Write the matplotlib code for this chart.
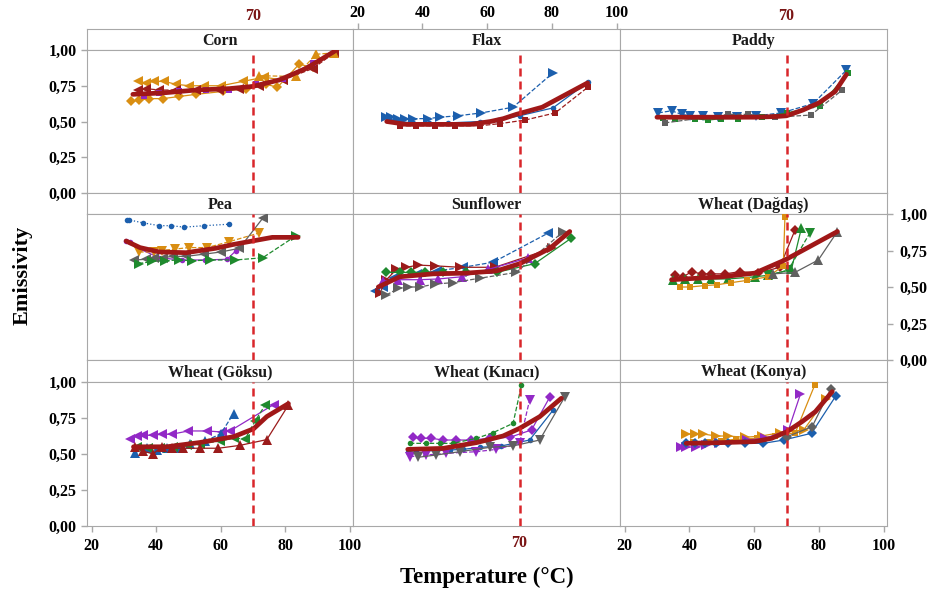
import numpy as np
import matplotlib.pyplot as plt

plt.rcParams['font.family'] = ['Liberation Serif', 'DejaVu Serif']
plt.rcParams['font.weight'] = 'bold'

# ---- data (temperature in C, emissivity) ----
# Corn
corn_t1 = [34.3, 36.9, 39.5, 42.6, 46.2, 50.3, 54.9, 60.1, 66.8, 73.5, 79.2]
corn_e1 = [0.78, 0.77, 0.78, 0.78, 0.76, 0.75, 0.75, 0.75, 0.78, 0.81, 0.79]
corn_t2 = [32.3, 34.8, 37.9, 42.1, 47.2, 52.4, 60.6, 67.8, 74.0, 77.6, 84.3, 88.5]
corn_e2 = [0.64, 0.65, 0.66, 0.66, 0.675, 0.69, 0.71, 0.73, 0.76, 0.74, 0.90, 0.88]
corn_t3 = [34.3, 36.9, 41.0, 46.2, 52.4, 59.6, 65.8, 72.0, 79.2, 88.5, 95.2]
corn_e3 = [0.72, 0.73, 0.72, 0.72, 0.72, 0.72, 0.73, 0.75, 0.79, 0.87, 0.98]
corn_t4 = [36.4, 41.0, 47.2, 55.5, 62.7, 70.9, 79.2, 88.5]
corn_e4 = [0.68, 0.70, 0.71, 0.72, 0.72, 0.76, 0.80, 0.91]
corn_t5 = [72.0, 83.3, 89.5, 95.2]
corn_e5 = [0.82, 0.815, 0.97, 0.98]
corn_fit_t = [32.8, 42.1, 52.4, 62.7, 69.9, 78.1, 86.4, 95.2]
corn_fit_e = [0.69, 0.70, 0.72, 0.73, 0.745, 0.79, 0.87, 0.99]

# Flax
flax_t1 = [28.9, 30.4, 32.5, 34.5, 37.1, 41.7, 45.3, 51.0, 58.2, 68.0, 80.3]
flax_e1 = [0.53, 0.53, 0.52, 0.52, 0.52, 0.52, 0.53, 0.54, 0.56, 0.60, 0.84]
flax_t2 = [29.4, 33.0, 37.0, 42.0, 48.0, 57.7, 63.4, 70.0, 80.3, 91.1]
flax_e2 = [0.52, 0.50, 0.49, 0.49, 0.49, 0.50, 0.51, 0.54, 0.595, 0.775]
flax_t3 = [33.0, 38.0, 44.0, 50.0, 57.7, 63.9, 71.7, 81.0, 91.1]
flax_e3 = [0.47, 0.47, 0.47, 0.47, 0.47, 0.485, 0.51, 0.56, 0.74]
flax_fit_t = [29.0, 35.0, 45.0, 55.0, 61.0, 65.0, 69.0, 77.0, 91.0]
flax_fit_e = [0.50, 0.48, 0.48, 0.48, 0.50, 0.52, 0.55, 0.60, 0.77]

# Paddy
paddy_t1 = [30.4, 34.5, 37.6, 40.2, 44.3, 48.9, 54.6, 60.7, 68.4, 78.2, 88.5]
paddy_e1 = [0.56, 0.575, 0.55, 0.54, 0.54, 0.53, 0.53, 0.54, 0.56, 0.625, 0.86]
paddy_t2 = [31.9, 35.5, 41.7, 45.8, 49.9, 55.1, 62.3, 70.0, 80.3, 89.0]
paddy_e2 = [0.525, 0.52, 0.52, 0.51, 0.52, 0.52, 0.53, 0.56, 0.61, 0.84]
paddy_t3 = [32.4, 52.0, 58.2, 66.4, 77.5, 87.2]
paddy_e3 = [0.49, 0.55, 0.55, 0.53, 0.545, 0.72]
paddy_fit_t = [30.0, 40.0, 50.0, 60.0, 67.0, 70.0, 75.0, 80.0, 85.0, 88.5]
paddy_fit_e = [0.53, 0.53, 0.53, 0.53, 0.535, 0.54, 0.58, 0.63, 0.71, 0.83]

# Pea
pea_t1 = [31.1, 31.6, 35.8, 41.0, 44.6, 48.7, 54.9, 62.6]
pea_e1 = [0.96, 0.96, 0.94, 0.92, 0.92, 0.91, 0.92, 0.93]
pea_t2 = [30.7, 32.0, 35.0, 41.0, 48.0, 55.0, 62.0, 64.8]
pea_e2 = [0.815, 0.81, 0.76, 0.70, 0.685, 0.685, 0.69, 0.75]
pea_t3 = [34.7, 39.3, 41.9, 46.0, 50.1, 55.8, 62.6, 71.9]
pea_e3 = [0.74, 0.74, 0.75, 0.76, 0.77, 0.77, 0.81, 0.87]
pea_t4 = [33.3, 36.9, 39.5, 42.1, 45.1, 49.3, 54.9, 60.1, 65.8, 73.0]
pea_e4 = [0.685, 0.69, 0.70, 0.70, 0.71, 0.71, 0.725, 0.74, 0.765, 0.97]
pea_t5 = [34.6, 38.7, 42.8, 47.0, 51.1, 56.8, 64.5, 73.0, 83.3]
pea_e5 = [0.66, 0.675, 0.68, 0.685, 0.68, 0.685, 0.685, 0.70, 0.85]
pea_fit_t = [30.7, 35.0, 41.0, 49.3, 58.4, 63.6, 69.8, 76.0, 84.0]
pea_fit_e = [0.815, 0.77, 0.74, 0.735, 0.765, 0.79, 0.815, 0.84, 0.84]

# Sunflower
sun_t1 = [25.3, 27.9, 31.0, 38.2, 44.4, 52.6, 61.9, 78.9]
sun_e1 = [0.47, 0.50, 0.56, 0.59, 0.61, 0.635, 0.67, 0.87]
sun_t2 = [26.9, 28.9, 32.0, 35.1, 38.7, 43.9, 51.6, 62.4, 79.9]
sun_e2 = [0.46, 0.55, 0.62, 0.635, 0.65, 0.645, 0.635, 0.635, 0.765]
sun_t3 = [28.9, 33.0, 36.6, 40.7, 46.4, 53.6, 62.9, 74.7, 86.0]
sun_e3 = [0.60, 0.60, 0.60, 0.60, 0.60, 0.605, 0.60, 0.66, 0.835]
sun_t4 = [27.9, 32.5, 39.2, 44.9, 52.1, 60.3, 72.7]
sun_e4 = [0.54, 0.55, 0.55, 0.555, 0.57, 0.62, 0.70]
sun_t5 = [28.9, 32.5, 35.5, 39.2, 43.9, 49.5, 57.7, 69.0, 83.5]
sun_e5 = [0.445, 0.49, 0.50, 0.50, 0.52, 0.53, 0.56, 0.60, 0.88]
sun_fit_t = [26.4, 33.0, 43.3, 53.6, 62.9, 70.1, 79.4, 85.5]
sun_fit_e = [0.50, 0.57, 0.59, 0.595, 0.61, 0.66, 0.765, 0.88]

# Wheat (Dagdas)
dag_t1 = [35.5, 38.1, 40.7, 43.8, 46.8, 51.0, 55.6, 61.3, 67.9, 72.6]
dag_e1 = [0.58, 0.57, 0.605, 0.59, 0.59, 0.59, 0.605, 0.595, 0.635, 0.89]
dag_t2 = [35.0, 38.6, 42.7, 46.8, 52.0, 60.2, 64.3, 71.5, 74.6]
dag_e2 = [0.55, 0.555, 0.555, 0.555, 0.555, 0.57, 0.58, 0.62, 0.905]
dag_t3 = [64.3, 70.5, 77.2]
dag_e3 = [0.58, 0.615, 0.87]
dag_t4 = [37.1, 40.2, 44.8, 48.4, 53.0, 57.7, 64.3, 69.0, 69.5]
dag_e4 = [0.50, 0.50, 0.51, 0.515, 0.53, 0.545, 0.57, 0.645, 0.98]
dag_t5 = [65.9, 72.6, 79.8, 85.7]
dag_e5 = [0.59, 0.60, 0.685, 0.88]
dag_fit_t = [34.5, 50.0, 60.2, 69.5, 77.0, 85.7]
dag_fit_e = [0.55, 0.57, 0.595, 0.685, 0.775, 0.88]

# Wheat (Goksu)
gok_t1 = [31.9, 34.0, 36.0, 39.1, 41.7, 44.8, 50.0, 55.7, 60.3, 62.9, 76.4]
gok_e1 = [0.606, 0.623, 0.63, 0.63, 0.637, 0.637, 0.66, 0.66, 0.653, 0.66, 0.843]
gok_t2 = [33.4, 37.1, 40.2, 43.3, 47.4, 50.5, 55.2, 60.0, 64.0]
gok_e2 = [0.51, 0.54, 0.525, 0.54, 0.545, 0.57, 0.59, 0.64, 0.78]
gok_t3 = [34.0, 37.6, 41.2, 45.3, 49.5, 53.6, 59.8, 64.0, 67.6, 70.7, 73.8]
gok_e3 = [0.55, 0.54, 0.545, 0.55, 0.56, 0.57, 0.59, 0.61, 0.605, 0.73, 0.84]
gok_t4 = [33.4, 36.0, 39.1, 41.7, 44.8, 48.4, 53.6, 59.3, 66.0, 74.3, 81.0]
gok_e4 = [0.55, 0.52, 0.50, 0.55, 0.54, 0.54, 0.54, 0.54, 0.56, 0.60, 0.84]
gok_fit_t = [33.0, 43.3, 53.6, 64.0, 70.2, 74.3, 81.0]
gok_fit_e = [0.55, 0.55, 0.58, 0.62, 0.675, 0.76, 0.85]

# Wheat (Kinaci)
kin_t1 = [37.1, 39.7, 42.8, 46.4, 50.5, 55.1, 60.8, 67.0, 73.7, 79.3]
kin_e1 = [0.616, 0.609, 0.609, 0.597, 0.597, 0.597, 0.609, 0.616, 0.667, 0.894]
kin_t2 = [36.1, 41.2, 45.3, 49.5, 56.7, 61.8, 68.0, 70.6]
kin_e2 = [0.574, 0.574, 0.574, 0.574, 0.609, 0.648, 0.713, 0.979]
kin_t3 = [35.5, 38.1, 41.2, 44.3, 48.4, 52.5, 57.7, 64.4, 73.1, 80.4]
kin_e3 = [0.516, 0.523, 0.523, 0.523, 0.528, 0.532, 0.546, 0.556, 0.597, 0.806]
kin_t4 = [36.1, 41.2, 47.4, 56.7, 62.8, 70.0, 73.1]
kin_e4 = [0.481, 0.493, 0.505, 0.516, 0.532, 0.574, 0.875]
kin_t5 = [38.6, 44.3, 51.5, 60.8, 68.0, 76.2, 83.9]
kin_e5 = [0.477, 0.493, 0.516, 0.546, 0.556, 0.597, 0.894]
kin_fit_t = [35.5, 46.4, 56.7, 64.9, 70.0, 76.2, 82.9]
kin_fit_e = [0.532, 0.539, 0.579, 0.625, 0.678, 0.759, 0.887]

# Wheat (Konya)
kon_t1 = [39.0, 41.6, 44.2, 48.3, 51.9, 57.1, 62.3, 68.0, 75.3, 82.1]
kon_e1 = [0.639, 0.639, 0.639, 0.625, 0.625, 0.616, 0.625, 0.648, 0.667, 0.88]
kon_t2 = [41.0, 45.7, 49.9, 54.5, 60.8, 66.5, 72.7, 78.7]
kon_e2 = [0.586, 0.586, 0.593, 0.602, 0.609, 0.625, 0.648, 0.979]
kon_t3 = [37.4, 39.0, 42.1, 45.2, 49.3, 57.7, 63.4, 70.6, 74.3]
kon_e3 = [0.546, 0.546, 0.551, 0.563, 0.574, 0.597, 0.609, 0.667, 0.917]
kon_t4 = [39.0, 41.6, 44.7, 48.3, 51.9, 57.1, 62.8, 69.1, 77.7, 85.2]
kon_e4 = [0.579, 0.579, 0.574, 0.574, 0.579, 0.574, 0.574, 0.597, 0.644, 0.903]
kon_t5 = [70.1, 77.9, 83.6]
kon_e5 = [0.62, 0.69, 0.949]
kon_fit_t = [39.0, 49.9, 60.2, 65.4, 70.1, 74.8, 78.9, 84.1]
kon_fit_e = [0.574, 0.579, 0.586, 0.609, 0.655, 0.725, 0.794, 0.933]

titles = ['Corn', 'Flax', 'Paddy',
          'Pea', 'Sunflower', 'Wheat (Dağdaş)',
          'Wheat (Göksu)', 'Wheat (Kınacı)', 'Wheat (Konya)']
ref_temp = 70
x_ticks = [20, 40, 60, 80, 100]
y_ticks = [0.0, 0.25, 0.50, 0.75, 1.00]

# colours
BLUE, RED, ORANGE = '#1c5fad', '#9b1b1b', '#d98e12'
PURPLE, GREEN, GRAY = '#9229c6', '#1f8a2e', '#606060'
FIT = '#a01818'

# (t, e, colour, marker, linestyle) for each panel
series = [
    [(corn_t1, corn_e1, ORANGE, '<', '-'), (corn_t2, corn_e2, ORANGE, 'D', '-'),
     (corn_t3, corn_e3, RED, '<', '--'), (corn_t4, corn_e4, PURPLE, 's', '-'),
     (corn_t5, corn_e5, ORANGE, '^', '--')],
    [(flax_t1, flax_e1, BLUE, '>', '--'), (flax_t2, flax_e2, BLUE, 'o', '-'),
     (flax_t3, flax_e3, RED, 's', '--')],
    [(paddy_t1, paddy_e1, BLUE, 'v', '--'), (paddy_t2, paddy_e2, GREEN, 's', '-'),
     (paddy_t3, paddy_e3, GRAY, 's', '--')],
    [(pea_t1, pea_e1, BLUE, 'o', ':'), (pea_t2, pea_e2, PURPLE, 'o', '-'),
     (pea_t3, pea_e3, ORANGE, 'v', '--'), (pea_t4, pea_e4, GRAY, '<', '-'),
     (pea_t5, pea_e5, GREEN, '>', '--')],
    [(sun_t1, sun_e1, BLUE, '<', '--'), (sun_t2, sun_e2, RED, '>', '-'),
     (sun_t3, sun_e3, GREEN, 'D', '-'), (sun_t4, sun_e4, PURPLE, '^', '-'),
     (sun_t5, sun_e5, GRAY, '>', '--')],
    [(dag_t1, dag_e1, RED, 'D', '-'), (dag_t2, dag_e2, GREEN, '^', '-'),
     (dag_t3, dag_e3, GREEN, 'v', '--'), (dag_t4, dag_e4, ORANGE, 's', '-'),
     (dag_t5, dag_e5, GRAY, '^', '-')],
    [(gok_t1, gok_e1, PURPLE, '<', '-'), (gok_t2, gok_e2, BLUE, '^', '--'),
     (gok_t3, gok_e3, GREEN, '<', '--'), (gok_t4, gok_e4, RED, '^', '-')],
    [(kin_t1, kin_e1, PURPLE, 'D', '-'), (kin_t2, kin_e2, GREEN, 'o', '--'),
     (kin_t3, kin_e3, BLUE, 'o', '-'), (kin_t4, kin_e4, PURPLE, 'v', '--'),
     (kin_t5, kin_e5, GRAY, 'v', '-')],
    [(kon_t1, kon_e1, ORANGE, '>', '-'), (kon_t2, kon_e2, ORANGE, 's', '-'),
     (kon_t3, kon_e3, PURPLE, '>', '-'), (kon_t4, kon_e4, BLUE, 'D', '-'),
     (kon_t5, kon_e5, GRAY, 'D', '-')],
]
fits = [(corn_fit_t, corn_fit_e), (flax_fit_t, flax_fit_e), (paddy_fit_t, paddy_fit_e),
        (pea_fit_t, pea_fit_e), (sun_fit_t, sun_fit_e), (dag_fit_t, dag_fit_e),
        (gok_fit_t, gok_fit_e), (kin_fit_t, kin_fit_e), (kon_fit_t, kon_fit_e)]

msize = {'<': 6.5, '>': 6.5, '^': 6.5, 'v': 6.5, 'D': 5, 's': 4.5, 'o': 4}

# ---- layout in pixels ----
W, H = 933, 590
fig = plt.figure(figsize=(W / 100, H / 100), dpi=100)
cols = [(87, 353), (353, 620), (620, 887)]
rows = [(29, 50, 193), (193, 214, 360), (360, 382, 526)]  # strip top, data top, data bottom
XLIM = (18.6, 101.0)
FRAME = '#a8a8a8'
TICK_FS = 11.5


def rect(x0, x1, y0, y1):
    return [x0 / W, 1 - y1 / H, (x1 - x0) / W, (y1 - y0) / H]


def ylab(v):
    return f"{v:.2f}".replace('.', ',')


for i in range(9):
    r, c = divmod(i, 3)
    x0, x1 = cols[c]
    st, dt, db = rows[r]

    # strip with the panel title
    sax = fig.add_axes(rect(x0, x1, st, dt))
    sax.set_xlim(XLIM)
    sax.set_ylim(0, 1)
    sax.set_yticks([])
    sax.set_xticks([])
    for sp in sax.spines.values():
        sp.set_color(FRAME)
    sax.text(0.5, 0.45, titles[i], transform=sax.transAxes, ha='center', va='center',
             fontsize=11.5, fontweight='bold', color='#1a1a1a')

    ax = fig.add_axes(rect(x0, x1, dt, db))
    ax.set_xlim(XLIM)
    ax.set_ylim(0, 1)
    for sp in ax.spines.values():
        sp.set_color(FRAME)
    ax.tick_params(colors=FRAME, labelcolor='black', labelsize=TICK_FS, length=4, width=1)

    for t, e, col, mk, ls in series[i]:
        ax.plot(t, e, color=col, marker=mk, ms=msize[mk], lw=0.9, ls=ls,
                markeredgewidth=0, zorder=3)
    ax.plot(fits[i][0], fits[i][1], color=FIT, lw=3.4, solid_capstyle='round', zorder=4)
    ax.axvline(ref_temp, color='#d9262b', lw=1.8, dashes=(3.2, 2.0), zorder=5)

    # x ticks
    if r == 2 and c != 1:
        ax.set_xticks(x_ticks)
        ax.tick_params(axis='x', pad=5)
    else:
        ax.set_xticks([])
    if r == 0 and c == 1:
        sax.xaxis.tick_top()
        sax.set_xticks(x_ticks)
        sax.tick_params(axis='x', colors=FRAME, labelcolor='black', labelsize=TICK_FS,
                        length=4, width=1, pad=2)

    # y ticks
    if c == 0 and r != 1:
        ax.set_yticks(y_ticks)
        ax.set_yticklabels([ylab(v) for v in y_ticks])
    elif c == 2 and r == 1:
        ax.yaxis.tick_right()
        ax.set_yticks(y_ticks)
        ax.set_yticklabels([ylab(v) for v in y_ticks])
        ax.tick_params(axis='y', pad=5)
    else:
        ax.set_yticks([])

    # reference line labels
    if r == 0 and c != 1:
        ax.annotate(str(ref_temp), xy=(ref_temp, 1), xycoords=('data', 'axes fraction'),
                    xytext=(0, 24.5), textcoords='offset points', ha='center', va='center',
                    color='#7a1414', fontsize=TICK_FS, fontweight='bold')
    if r == 2 and c == 1:
        ax.annotate(str(ref_temp), xy=(ref_temp, 0), xycoords=('data', 'axes fraction'),
                    xytext=(0, -12), textcoords='offset points', ha='center', va='center',
                    color='#7a1414', fontsize=TICK_FS, fontweight='bold')

fig.text(23 / W, 1 - 275 / H, 'Emissivity', rotation=90, ha='center', va='center',
         fontsize=16, fontweight='bold')
fig.text(487 / W, 1 - 577 / H, 'Temperature (°C)', ha='center', va='center',
         fontsize=16.5, fontweight='bold')

fig.savefig('out.png', dpi=100)
